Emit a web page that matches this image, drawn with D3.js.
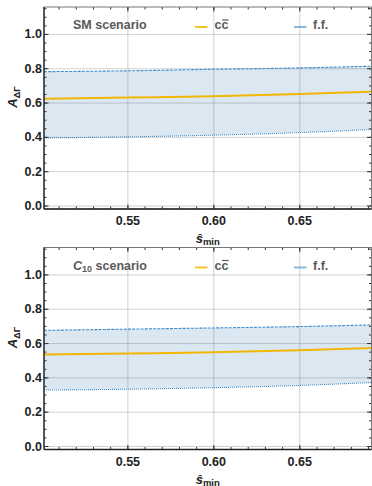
<!DOCTYPE html>
<html>
<head>
<meta charset="utf-8">
<script src="https://cdn.jsdelivr.net/npm/d3@7"></script>
<style>
  body { margin: 0; background: #fff; }
  svg { display: block; font-family: "Liberation Sans", Arial, sans-serif; }
  .tick-label { font-size: 12.5px; font-weight: bold; fill: #222; }
  .legend { font-size: 12.5px; font-weight: bold; fill: #5a5a5a; }
</style>
</head>
<body>
<svg id="chart" width="372" height="486"></svg>
<script>
// s-hat_min sample points
const sMin = [0.5015, 0.55, 0.6, 0.65, 0.692];

// SM scenario
const smCC = [0.622, 0.629, 0.637, 0.65, 0.663];
const smFFUpper = [0.78, 0.785, 0.794, 0.802, 0.812];
const smFFLower = [0.394, 0.4, 0.41, 0.425, 0.443];

// C10 scenario
const c10CC = [0.533, 0.539, 0.546, 0.558, 0.571];
const c10FFUpper = [0.674, 0.681, 0.688, 0.696, 0.706];
const c10FFLower = [0.326, 0.331, 0.34, 0.353, 0.37];

const xTicks = [0.55, 0.6, 0.65];
const xMinorTicks = d3.range(51, 70).map((d) => d / 100);
const yTicks = [0, 0.2, 0.4, 0.6, 0.8, 1.0];
const yMinorTicks = d3.range(0, 24).map((d) => d * 0.05);

const yellow = "#f2b705";
const blue = "#3f8ccb";
const bandFill = "#dce8f1";

const svg = d3.select("#chart");

const left = 44, right = 371.5, plotH = 202;
const x = d3.scaleLinear().domain([0.5015, 0.692]).range([left, right]);

function drawPanel(top, cc, upper, lower, scenario) {
  const y = d3.scaleLinear().domain([-0.0204, 1.157]).range([top + plotH, top]);
  const g = svg.append("g");
  const rows = sMin.map((s, i) => ({ s, cc: cc[i], hi: upper[i], lo: lower[i] }));

  // band between f.f. curves
  g.append("path")
    .datum(rows)
    .attr("fill", bandFill)
    .attr("d", d3.area().curve(d3.curveMonotoneX)
      .x((d) => x(d.s)).y0((d) => y(d.lo)).y1((d) => y(d.hi)));

  // grid
  g.append("g")
    .attr("transform", `translate(0,${top + plotH})`)
    .call(d3.axisBottom(x).tickValues(xTicks).tickSize(-plotH).tickFormat(""))
    .call((a) => a.select(".domain").remove())
    .call((a) => a.selectAll("line").attr("stroke", "#000").attr("stroke-opacity", 0.18));
  g.append("g")
    .attr("transform", `translate(${left},0)`)
    .call(d3.axisLeft(y).tickValues(yTicks).tickSize(-(right - left)).tickFormat(""))
    .call((a) => a.select(".domain").remove())
    .call((a) => a.selectAll("line").attr("stroke", "#000").attr("stroke-opacity", 0.18));

  // curves
  const line = (key) => d3.line().curve(d3.curveMonotoneX).x((d) => x(d.s)).y((d) => y(d[key]));
  g.append("path").datum(rows).attr("fill", "none").attr("stroke", blue)
    .attr("stroke-width", 1.1).attr("stroke-dasharray", "3,1.2").attr("d", line("hi"));
  g.append("path").datum(rows).attr("fill", "none").attr("stroke", blue)
    .attr("stroke-width", 1.1).attr("stroke-dasharray", "1,1").attr("d", line("lo"));
  g.append("path").datum(rows).attr("fill", "none").attr("stroke", yellow)
    .attr("stroke-width", 2).attr("d", line("cc"));

  // frame ticks (pointing inward)
  const tickStyle = (a) => a.selectAll("line").attr("stroke", "#333");
  const noLabels = (a) => { a.selectAll("text").remove(); a.select(".domain").remove(); };

  const bottomAxis = g.append("g").attr("transform", `translate(0,${top + plotH})`);
  bottomAxis.append("g").call(d3.axisBottom(x).tickValues(xMinorTicks).tickSize(-2.5)).call(noLabels).call(tickStyle);
  bottomAxis.append("g").call(d3.axisBottom(x).tickValues(xTicks).tickSize(-4.5).tickFormat(d3.format(".2f")))
    .call((a) => a.select(".domain").remove()).call(tickStyle)
    .call((a) => a.selectAll("text").attr("class", "tick-label").attr("y", 7.5).attr("dy", "0.71em"));

  const topAxis = g.append("g").attr("transform", `translate(0,${top})`);
  topAxis.append("g").call(d3.axisTop(x).tickValues(xMinorTicks).tickSize(-2.5)).call(noLabels).call(tickStyle);
  topAxis.append("g").call(d3.axisTop(x).tickValues(xTicks).tickSize(-4.5)).call(noLabels).call(tickStyle);

  const leftAxis = g.append("g").attr("transform", `translate(${left},0)`);
  leftAxis.append("g").call(d3.axisLeft(y).tickValues(yMinorTicks).tickSize(-2.5)).call(noLabels).call(tickStyle);
  leftAxis.append("g").call(d3.axisLeft(y).tickValues(yTicks).tickSize(-4.5).tickFormat(d3.format(".1f")))
    .call((a) => a.select(".domain").remove()).call(tickStyle)
    .call((a) => a.selectAll("text").attr("class", "tick-label").attr("x", -2));

  const rightAxis = g.append("g").attr("transform", `translate(${right},0)`);
  rightAxis.append("g").call(d3.axisRight(y).tickValues(yMinorTicks).tickSize(-2.5)).call(noLabels).call(tickStyle);
  rightAxis.append("g").call(d3.axisRight(y).tickValues(yTicks).tickSize(-4.5)).call(noLabels).call(tickStyle);

  // frame
  g.append("rect")
    .attr("x", left).attr("y", top).attr("width", right - left).attr("height", plotH)
    .attr("fill", "none").attr("stroke", "#777").attr("stroke-width", 1);
  g.append("line").attr("x1", left).attr("x2", left).attr("y1", top).attr("y2", top + plotH)
    .attr("stroke", "#222").attr("stroke-width", 1.3);
  g.append("line").attr("x1", left).attr("x2", right).attr("y1", top + plotH).attr("y2", top + plotH)
    .attr("stroke", "#222").attr("stroke-width", 1.3);

  // axis titles
  const yt = g.append("text")
    .attr("transform", `translate(17,${top + 90}) rotate(-90)`)
    .attr("text-anchor", "middle")
    .attr("font-size", 13).attr("font-weight", "bold").attr("fill", "#222");
  yt.append("tspan").attr("font-style", "italic").text("A");
  yt.append("tspan").attr("font-size", 9).attr("dy", 3).text("ΔΓ");

  const xt = g.append("text")
    .attr("x", (left + right) / 2).attr("y", top + plotH + 34)
    .attr("text-anchor", "middle")
    .attr("font-size", 13).attr("font-weight", "bold").attr("fill", "#222");
  xt.append("tspan").attr("font-style", "italic").text("ŝ");
  xt.append("tspan").attr("font-size", 9.5).attr("dy", 2).text("min");

  // legend
  const lt = g.append("text").attr("class", "legend").attr("x", 73).attr("y", top + 22.3);
  scenario(lt);

  g.append("line").attr("x1", 195).attr("x2", 207.5).attr("y1", top + 20).attr("y2", top + 20)
    .attr("stroke", yellow).attr("stroke-width", 2).attr("stroke-opacity", 0.85);
  g.append("text").attr("class", "legend").attr("x", 214.5).attr("y", top + 22.3).text("cc");
  g.append("line").attr("x1", 222).attr("x2", 228.6).attr("y1", top + 13).attr("y2", top + 13)
    .attr("stroke", "#5a5a5a").attr("stroke-width", 1.2);

  g.append("line").attr("x1", 294).attr("x2", 306.5).attr("y1", top + 20).attr("y2", top + 20)
    .attr("stroke", blue).attr("stroke-width", 2).attr("stroke-opacity", 0.6);
  g.append("text").attr("class", "legend").attr("x", 313).attr("y", top + 22.3).text("f.f.");
}

drawPanel(7, smCC, smFFUpper, smFFLower, (t) => t.text("SM scenario"));
drawPanel(247.5, c10CC, c10FFUpper, c10FFLower, (t) => {
  t.append("tspan").attr("font-style", "italic").text("C");
  t.append("tspan").attr("font-size", 9).attr("dy", 2).text("10");
  t.append("tspan").attr("dy", -2).text(" scenario");
});
</script>
</body>
</html>
